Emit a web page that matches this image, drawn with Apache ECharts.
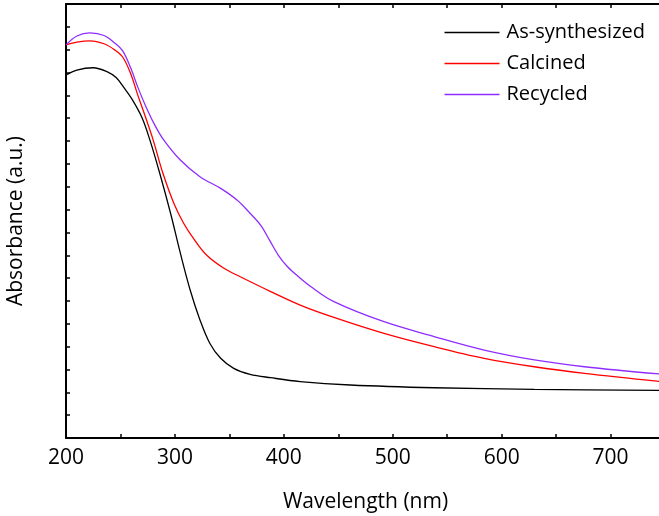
<!DOCTYPE html>
<html>
<head>
<meta charset="utf-8">
<script src="https://cdn.jsdelivr.net/npm/echarts@6/dist/echarts.min.js"></script>
<style>
  html, body { margin: 0; padding: 0; background: #fff; }
  #main { width: 659px; height: 516px; }
</style>
</head>
<body>
<div id="main"></div>
<script>
// wavelength (nm), absorbance (a.u.)
var asSynthesized = [
  [200, 1.589], [210, 1.611], [225, 1.621], [238, 1.603], [246, 1.578],
  [253, 1.535], [261, 1.48], [270, 1.40], [277, 1.305], [286, 1.16],
  [296, 0.984], [305, 0.809], [314, 0.648], [323, 0.517], [332, 0.415],
  [342, 0.349], [354, 0.305], [369, 0.279], [388, 0.264], [415, 0.247],
  [461, 0.232], [538, 0.220], [630, 0.213], [750, 0.208]
];
var calcined = [
  [200, 1.721], [210, 1.733], [222, 1.739], [235, 1.726], [245, 1.698],
  [252, 1.668], [259, 1.600], [266, 1.50], [273, 1.405], [280, 1.305],
  [289, 1.159], [299, 1.028], [308, 0.94], [317, 0.874], [329, 0.801],
  [345, 0.743], [360, 0.706], [388, 0.641], [415, 0.582], [446, 0.528],
  [492, 0.458], [538, 0.40], [584, 0.349], [630, 0.312], [676, 0.283],
  [750, 0.245]
];
var recycled = [
  [200, 1.721], [210, 1.76], [222, 1.774], [235, 1.762], [245, 1.728],
  [252, 1.695], [259, 1.625], [266, 1.535], [273, 1.455], [281, 1.375],
  [289, 1.31], [305, 1.217], [323, 1.144], [342, 1.093], [357, 1.042],
  [369, 0.984], [379, 0.93], [387, 0.865], [395, 0.80], [403, 0.752],
  [412, 0.712], [425, 0.662], [446, 0.597], [492, 0.509], [538, 0.444],
  [584, 0.385], [630, 0.342], [676, 0.312], [750, 0.278]
];
var seriesNames = ['As-synthesized', 'Calcined', 'Recycled'];
var seriesColors = ['#000000', '#ff0000', '#8f2dff'];

var dom = document.getElementById('main');
var myChart = echarts.init(dom, null, { renderer: 'canvas' });

var font = 'Open Sans';
var axisLine = { show: true, lineStyle: { color: '#000', width: 2 } };
var axisTick = { show: true, inside: true, length: 4, lineStyle: { color: '#000', width: 1.5 } };

function makeLine(name, data, color) {
  return {
    name: name,
    type: 'line',
    data: data,
    smooth: 0.35,
    symbol: 'none',
    lineStyle: { color: color, width: 1.3 },
    itemStyle: { color: color }
  };
}

var option = {
  animation: false,
  grid: { left: 66, right: -6, top: 4, bottom: 78, outerBoundsMode: 'none', containLabel: false },
  legend: {
    orient: 'vertical',
    right: 9,
    top: 14,
    icon: 'rect',
    itemWidth: 55,
    itemHeight: 1.3,
    itemGap: 4,
    textStyle: { fontFamily: font, fontSize: 20, color: '#000', lineHeight: 27, padding: [0, 0, 0, 2] },
    data: seriesNames
  },
  xAxis: [
    {
      type: 'value',
      min: 200,
      max: 750,
      interval: 50,
      name: 'Wavelength (nm)',
      nameLocation: 'middle',
      nameGap: 54,
      nameTextStyle: { fontFamily: font, fontSize: 21, color: '#000' },
      axisLine: axisLine,
      axisTick: axisTick,
      splitLine: { show: false },
      axisLabel: {
        fontFamily: font, fontSize: 21, color: '#000', margin: 10,
        formatter: function (v) { return v % 100 === 0 ? String(v) : ''; }
      }
    },
    {
      type: 'value',
      position: 'top',
      min: 200,
      max: 750,
      interval: 50,
      axisLine: axisLine,
      axisTick: axisTick,
      splitLine: { show: false },
      axisLabel: { show: false }
    }
  ],
  yAxis: {
    type: 'value',
    min: 0,
    max: 1.9,
    interval: 0.1,
    name: 'Absorbance (a.u.)',
    nameLocation: 'middle',
    nameGap: 39,
    nameTextStyle: { fontFamily: font, fontSize: 21, color: '#000' },
    axisLine: axisLine,
    axisTick: axisTick,
    splitLine: { show: false },
    axisLabel: { show: false }
  },
  series: [
    makeLine(seriesNames[0], asSynthesized, seriesColors[0]),
    makeLine(seriesNames[1], calcined, seriesColors[1]),
    makeLine(seriesNames[2], recycled, seriesColors[2])
  ]
};

if (option && typeof option === 'object') {
  myChart.setOption(option);
}

window.addEventListener('resize', myChart.resize);
</script>
</body>
</html>
